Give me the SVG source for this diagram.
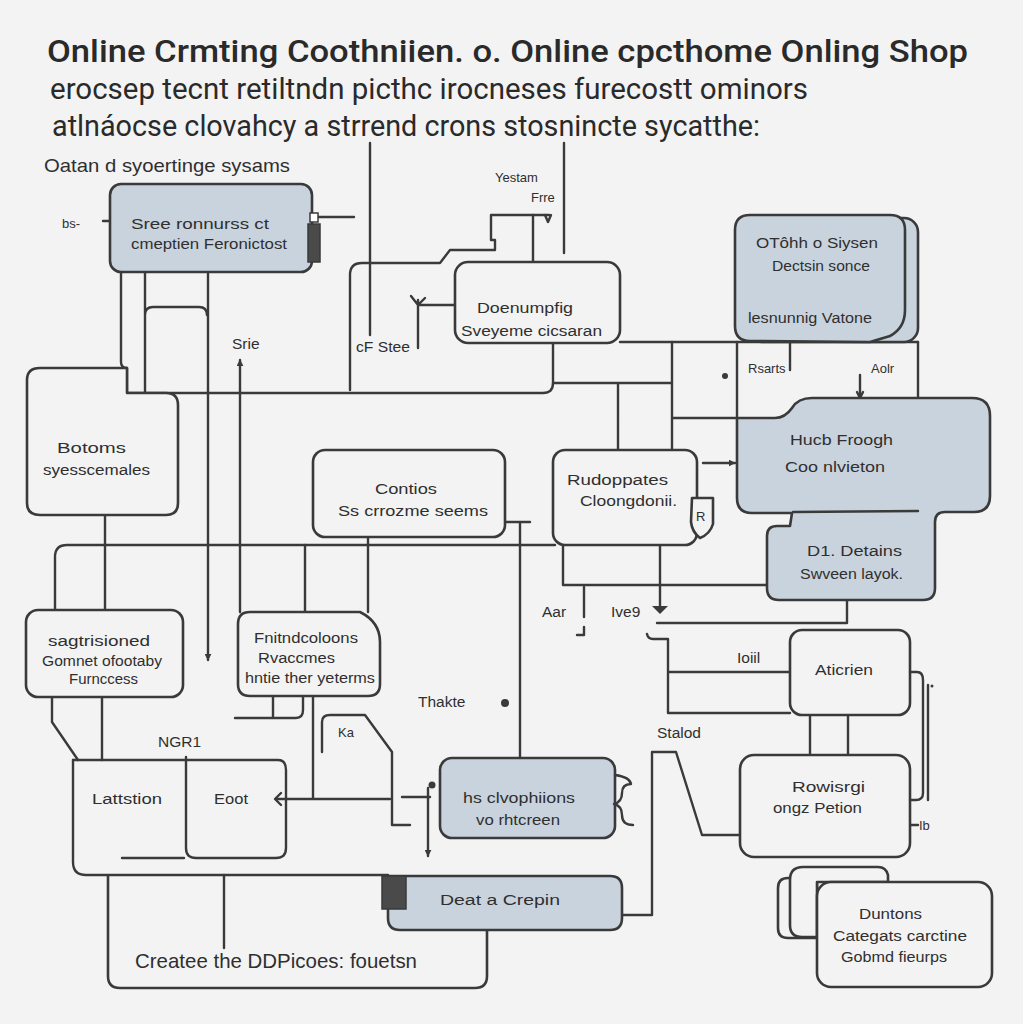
<svg xmlns="http://www.w3.org/2000/svg" width="1023" height="1024" viewBox="0 0 1023 1024">
<defs>
<style>
.ln{fill:none;stroke:#3a3a3a;stroke-width:2.4;stroke-linecap:round;stroke-linejoin:round}
.bx{fill:#f3f3f3;stroke:#3a3a3a;stroke-width:2.6;stroke-linejoin:round}
.bo{fill:none;stroke:#3a3a3a;stroke-width:2.6;stroke-linejoin:round}
.bl{fill:#c9d3dd;stroke:#3a3a3a;stroke-width:2.6;stroke-linejoin:round}
.dk{fill:#4a4a4a;stroke:#3a3a3a;stroke-width:1.5}
text{font-family:"Liberation Sans",Arial,sans-serif;fill:#2f2f2f}
.t{font-size:15.5px}
.s{font-size:13px}
.h{font-family:Roboto,"Liberation Sans",sans-serif;fill:#2a2a2a}
.h1{font-size:32px;font-weight:500}
.h2{font-size:30px;font-weight:400}
</style>
<marker id="ah" viewBox="0 0 10 10" refX="9" refY="5" markerWidth="7" markerHeight="7" orient="auto-start-reverse" markerUnits="userSpaceOnUse">
<path d="M0,0 L10,5 L0,10 Z" fill="#3a3a3a"/>
</marker>
</defs>
<rect width="1023" height="1024" fill="#f3f3f3"/>

<g id="title">
<text class="h h1" x="47" y="62" textLength="921" lengthAdjust="spacingAndGlyphs">Online Crmting Coothniien. o. Online cpcthome Onling Shop</text>
<text class="h h2" x="50" y="99" textLength="758" lengthAdjust="spacingAndGlyphs">erocsep tecnt retiltndn picthc irocneses furecostt ominors</text>
<text class="h h2" x="52" y="136" textLength="708" lengthAdjust="spacingAndGlyphs">atlnáocse clovahcy a strrend crons stosnincte sycatthe:</text>
<text x="44" y="172" font-size="19" textLength="246" lengthAdjust="spacingAndGlyphs">Oatan d syoertinge sysams</text>
</g>

<g id="connectors">
<path class="ln" d="M103,221 L110,221"/>
<path class="ln" d="M318,217 L354,217"/>
<path class="ln" d="M370,143 L370,335"/>
<path class="ln" d="M564,143 L564,253"/>
<path class="ln" d="M350,390 L350,275 Q350,263 362,263 L440,263 L450,250 L495,250 L495,240 L491,240 L491,215 L549,215"/>
<path class="ln" d="M545,215 L548,222 L551,215"/>
<path class="ln" d="M533,215 L533,262"/>
<path class="ln" d="M418,305 L455,305 M418,300 L418,348 M411,296 L418,305 L425,298"/>
<path class="ln" d="M553,343 L553,383 Q553,393 543,393 L127,393"/>
<path class="ln" d="M620,342 L918,342"/>
<path class="ln" d="M553,383 L672,383 M672,342 L672,450 M618,383 L618,450 M672,418 L737,418 M737,342 L737,418"/>
<path class="ln" d="M790,342 L790,370"/>
<path class="ln" d="M918,342 L918,398"/>
<path class="ln" d="M860,375 L860,398"/>
<path class="ln" d="M857,392 L860,398 L863,392"/>
<circle cx="725" cy="376" r="3" fill="#3a3a3a"/>
<path class="ln" d="M121,272 L121,362 Q121,368 127,368 L127,393"/>
<path class="ln" d="M145,272 L145,393 M145,315 Q145,307 153,307 L199,307 Q207,307 207,315"/>
<path class="ln" d="M208,272 L208,660" marker-end="url(#ah)"/>
<path class="ln" d="M240,612 L240,360" marker-end="url(#ah)"/>
<path class="ln" d="M105,515 L105,610"/>
<path class="ln" d="M55,610 L55,557 Q55,545 67,545 L555,545"/>
<path class="ln" d="M305,545 L305,612 M368,537 L368,612"/>
<path class="ln" d="M505,522 L530,522 M520,522 L520,758"/>
<path class="ln" d="M273,696 L273,718 M235,718 L296,718 Q303,718 303,710 L303,696"/>
<path class="ln" d="M313,696 L313,799 M390,799 L276,799"/>
<path class="ln" d="M281,793 L275,799 L281,805"/>
<path class="ln" d="M322,752 L322,722 Q322,715 330,715 L365,715 L392,752 L392,825 L410,825"/>
<path class="ln" d="M402,797 L430,797"/>
<path class="ln" d="M428,788 L428,856" marker-end="url(#ah)"/>
<circle cx="432" cy="785" r="3.5" fill="#3a3a3a"/>
<path class="ln" d="M52,697 L52,722 L78,760 M102,697 L102,760"/>
<path class="ln" d="M224,875 L224,948"/>
<path class="ln" d="M622,915 L652,915 L652,752 L676,752 L702,835 L740,835"/>
<path class="ln" d="M563,545 L563,585 L768,585"/>
<path class="ln" d="M660,545 L660,608"/>
<path d="M652,606 L668,606 L660,614 Z" fill="#3a3a3a"/>
<path class="ln" d="M584,587 L584,617 M577,635 L584,635 L584,627"/>
<path class="ln" d="M657,623 L847,623 L847,600"/>
<path class="ln" d="M647,634 Q648,639 653,639 L668,639 L668,713 L790,713 M668,672 L790,672"/>
<path class="ln" d="M910,672 L917,672 Q923,672 923,680 L923,793 Q923,800 916,800 L910,800 M928,685 L928,800"/>
<circle cx="932" cy="686" r="1.5" fill="#3a3a3a"/>
<path class="ln" d="M810,715 L810,755 M848,715 L848,755"/>
<path class="ln" d="M910,825 L918,825"/>
<path class="ln" d="M703,463 L735,463" marker-end="url(#ah)"/>
</g>

<g id="n1">
<rect class="bl" x="110" y="184" width="202" height="88" rx="11"/>
<rect class="dk" x="308" y="224" width="12" height="38"/>
<rect x="310" y="213" width="8" height="9" fill="#fff" stroke="#3a3a3a" stroke-width="1.5"/>
<text class="t" x="131" y="229" textLength="138" lengthAdjust="spacingAndGlyphs">Sree ronnurss ct</text>
<text class="t" x="131" y="249" textLength="156" lengthAdjust="spacingAndGlyphs">cmeptien Feronictost</text>
</g>
<g id="lbl-bs"><text class="s" x="62" y="228">bs-</text></g>
<g id="lbl-srie"><text class="t" x="232" y="349">Srie</text></g>
<g id="lbl-stee"><text class="t" x="356" y="352" textLength="54" lengthAdjust="spacingAndGlyphs">cF Stee</text></g>
<g id="lbl-yestam"><text class="s" x="495" y="182">Yestam</text><text class="s" x="531" y="202">Frre</text></g>

<g id="n2">
<rect class="bx" x="455" y="262" width="165" height="81" rx="13"/>
<text class="t" x="477" y="313" textLength="96" lengthAdjust="spacingAndGlyphs">Doenumpfig</text>
<text class="t" x="461" y="336" textLength="141" lengthAdjust="spacingAndGlyphs">Sveyeme cicsaran</text>
</g>

<g id="n3">
<rect class="bl" x="748" y="218" width="170" height="124" rx="14"/>
<path class="bl" d="M750,215 L890,215 Q905,215 905,230 L905,310 Q905,328 890,336 L870,342 L750,341 Q735,341 735,326 L735,230 Q735,215 750,215 Z"/>
<text class="t" x="756" y="248" textLength="122" lengthAdjust="spacingAndGlyphs">OTôhh o Siysen</text>
<text class="t" x="772" y="271" textLength="98" lengthAdjust="spacingAndGlyphs">Dectsin sonce</text>
<text class="t" x="748" y="323" textLength="124" lengthAdjust="spacingAndGlyphs">lesnunnig Vatone</text>
</g>
<g id="lbl-rsarts"><text class="s" x="748" y="373">Rsarts</text><text class="s" x="871" y="373">Aolr</text></g>

<g id="n4">
<path class="bx" d="M40,368 L127,368 L127,393 L166,393 Q178,393 178,405 L178,503 Q178,515 166,515 L40,515 Q27,515 27,503 L27,380 Q27,368 40,368 Z"/>
<text class="t" x="57" y="453" textLength="69" lengthAdjust="spacingAndGlyphs">Botoms</text>
<text class="t" x="43" y="475" textLength="107" lengthAdjust="spacingAndGlyphs">syesscemales</text>
</g>

<g id="n5">
<rect class="bx" x="313" y="450" width="192" height="87" rx="12"/>
<text class="t" x="375" y="494" textLength="62" lengthAdjust="spacingAndGlyphs">Contios</text>
<text class="t" x="338" y="516" textLength="150" lengthAdjust="spacingAndGlyphs">Ss crrozme seems</text>
</g>

<g id="n6">
<rect class="bx" x="553" y="450" width="144" height="95" rx="12"/>
<path class="bx" d="M692,498 L713,498 L713,524 Q710,534 700,538 Q692,532 691,522 Z"/>
<text class="s" x="696" y="521">R</text>
<text class="t" x="567" y="485" textLength="101" lengthAdjust="spacingAndGlyphs">Rudoppates</text>
<text class="t" x="580" y="506" textLength="97" lengthAdjust="spacingAndGlyphs">Cloongdonii.</text>
</g>

<g id="n7">
<path class="bl" d="M737,418 L775,418 Q785,418 792,408 Q798,398 812,398 L972,398 Q990,398 990,416 L990,496 Q990,512 974,512 L945,512 Q935,512 935,522 L935,588 Q935,600 923,600 L779,600 Q767,600 767,588 L767,536 Q767,526 777,526 L790,526 L792,513 L752,513 Q737,513 737,498 Z"/>
<path class="ln" d="M793,512 L918,511"/>
<text class="t" x="790" y="445" textLength="103" lengthAdjust="spacingAndGlyphs">Hucb Froogh</text>
<text class="t" x="785" y="472" textLength="100" lengthAdjust="spacingAndGlyphs">Coo nlvieton</text>
<text class="t" x="807" y="556" textLength="95" lengthAdjust="spacingAndGlyphs">D1. Detains</text>
<text class="t" x="800" y="579" textLength="103" lengthAdjust="spacingAndGlyphs">Swveen layok.</text>
</g>

<g id="lbl-aar"><text class="t" x="542" y="617">Aar</text><text class="t" x="611" y="617">Ive9</text><text class="t" x="737" y="663">Ioiil</text></g>

<g id="n8">
<rect class="bx" x="26" y="610" width="157" height="87" rx="12"/>
<text class="t" x="48" y="646" textLength="102" lengthAdjust="spacingAndGlyphs">sagtrisioned</text>
<text class="t" x="42" y="666" textLength="120" lengthAdjust="spacingAndGlyphs">Gomnet ofootaby</text>
<text class="t" x="69" y="684" textLength="69" lengthAdjust="spacingAndGlyphs">Furnccess</text>
</g>

<g id="n9">
<path class="bx" d="M250,612 L360,612 Q380,622 380,642 L380,684 Q380,696 368,696 L250,696 Q238,696 238,684 L238,624 Q238,612 250,612 Z"/>
<text class="t" x="254" y="643" textLength="104" lengthAdjust="spacingAndGlyphs">Fnitndcoloons</text>
<text class="t" x="258" y="663" textLength="77" lengthAdjust="spacingAndGlyphs">Rvaccmes</text>
<text class="t" x="245" y="683" textLength="130" lengthAdjust="spacingAndGlyphs">hntie ther yeterms</text>
</g>

<g id="lbl-thakte"><text class="t" x="418" y="707">Thakte</text><circle cx="505" cy="703" r="4" fill="#3a3a3a"/></g>
<g id="lbl-ngr"><text class="t" x="158" y="747">NGR1</text><text class="s" x="338" y="737">Ka</text></g>

<g id="n10">
<rect class="bx" x="790" y="630" width="120" height="85" rx="12"/>
<text class="t" x="815" y="675" textLength="58" lengthAdjust="spacingAndGlyphs">Aticrien</text>
</g>

<g id="n11">
<path class="ln" d="M73,760 L278,760 Q286,760 286,770 L286,848 Q286,858 276,858 L196,858 Q186,858 186,848 L186,757"/>
<path class="ln" d="M73,760 L73,862 Q73,875 86,875 L388,875"/>
<path class="ln" d="M122,858 L184,858"/>
<text class="t" x="92" y="804" textLength="70" lengthAdjust="spacingAndGlyphs">Lattstion</text>
<text class="t" x="214" y="804" textLength="34" lengthAdjust="spacingAndGlyphs">Eoot</text>
</g>

<g id="n12">
<rect class="bl" x="440" y="758" width="175" height="80" rx="12"/>
<path class="ln" d="M615,775 Q630,777 631,784 Q622,784 622,793 Q622,802 614,804 Q622,806 622,815 Q622,825 633,825"/>
<text class="t" x="463" y="803" textLength="112" lengthAdjust="spacingAndGlyphs">hs clvophiions</text>
<text class="t" x="476" y="825" textLength="84" lengthAdjust="spacingAndGlyphs">vo rhtcreen</text>
</g>

<g id="n13">
<path class="bl" d="M388,876 L610,876 Q622,876 622,888 L622,918 Q622,930 610,930 L400,930 Q388,930 388,918 Z"/>
<rect class="dk" x="382" y="876" width="24" height="33"/>
<text class="t" x="440" y="905" textLength="120" lengthAdjust="spacingAndGlyphs">Deat a Crepin</text>
</g>

<g id="n14">
<path class="bo" d="M108,876 L108,976 Q108,988 120,988 L475,988 Q487,988 487,976 L487,931"/>
<text x="135" y="968" font-size="21" textLength="282" lengthAdjust="spacingAndGlyphs">Createe the DDPicoes: fouetsn</text>
</g>

<g id="lbl-stalod"><text class="t" x="657" y="738">Stalod</text><text class="s" x="919" y="830">Ib</text></g>

<g id="n15">
<rect class="bx" x="740" y="755" width="170" height="102" rx="14"/>
<text class="t" x="792" y="792" textLength="73" lengthAdjust="spacingAndGlyphs">Rowisrgi</text>
<text class="t" x="773" y="813" textLength="89" lengthAdjust="spacingAndGlyphs">ongz Petion</text>
</g>

<g id="n16">
<path class="bx" d="M817,938 L788,938 Q778,938 778,928 L778,888 Q778,878 788,878 L817,878 Z"/>
<path class="bx" d="M817,937 L802,937 Q790,937 790,925 L790,880 Q790,867 803,867 L878,867 Q886,867 888,875 L888,882 L817,882 Z"/>
<rect class="bx" x="817" y="882" width="175" height="105" rx="14"/>
<text class="t" x="859" y="919" textLength="63" lengthAdjust="spacingAndGlyphs">Duntons</text>
<text class="t" x="833" y="941" textLength="134" lengthAdjust="spacingAndGlyphs">Categats carctine</text>
<text class="t" x="841" y="962" textLength="106" lengthAdjust="spacingAndGlyphs">Gobmd fieurps</text>
</g>
</svg>
